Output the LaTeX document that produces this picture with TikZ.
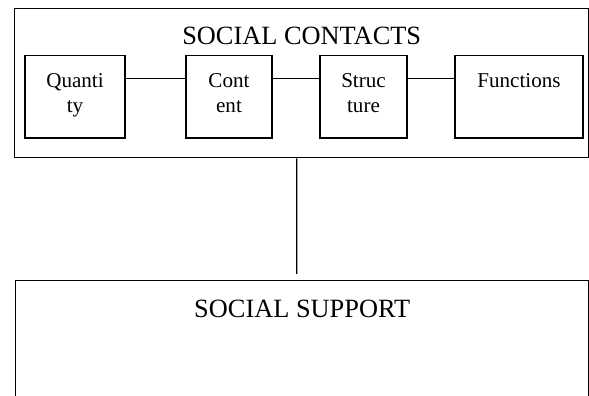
\documentclass[tikz,border=0pt]{standalone}
\usepackage{fontspec}
\setmainfont{Liberation Serif}
\usetikzlibrary{positioning}

\begin{document}
\begin{tikzpicture}[
  line width=0.8pt,
  bigbox/.style={rectangle, draw, inner sep=0pt, font=\fontsize{15}{18}\selectfont},
  part/.style={rectangle, draw, align=center, inner sep=0pt, text height=0.64cm, text depth=1.01cm, font=\fontsize{12}{13.9}\selectfont},
  twoline/.style={part, text height=1.13cm, text depth=0.52cm}
]
  \clip (0,0) rectangle (11.78,-7.92);
  \node[bigbox, anchor=north west, minimum width=11.48cm, text height=0.726cm, text depth=2.254cm] (contacts) at (0.28,-0.16) {SOCIAL CONTACTS};
  \node[twoline, anchor=north, minimum width=2.00cm] (quantity) at (1.50,-1.10) {Quanti\\ty};
  \node[twoline, anchor=north, minimum width=1.72cm] (content) at (4.58,-1.10) {Cont\\ent};
  \node[twoline, anchor=north, minimum width=1.74cm] (structure) at (7.27,-1.10) {Struc\\ture};
  \node[part, anchor=north, minimum width=2.56cm] (functions) at (10.38,-1.10) {Functions};
  \node[bigbox, anchor=north west, minimum width=11.46cm, text height=0.74cm, text depth=2.8cm] (support) at (0.30,-5.60) {SOCIAL SUPPORT};
  \draw ([yshift=-0.47cm]quantity.north east) -- ([yshift=-0.47cm]content.north west);
  \draw ([yshift=-0.47cm]content.north east) -- ([yshift=-0.47cm]structure.north west);
  \draw ([yshift=-0.47cm]structure.north east) -- ([yshift=-0.47cm]functions.north west);
  \draw ([xshift=-0.10cm]contacts.south) -- ([xshift=-0.11cm,yshift=0.12cm]support.north);
\end{tikzpicture}
\end{document}
